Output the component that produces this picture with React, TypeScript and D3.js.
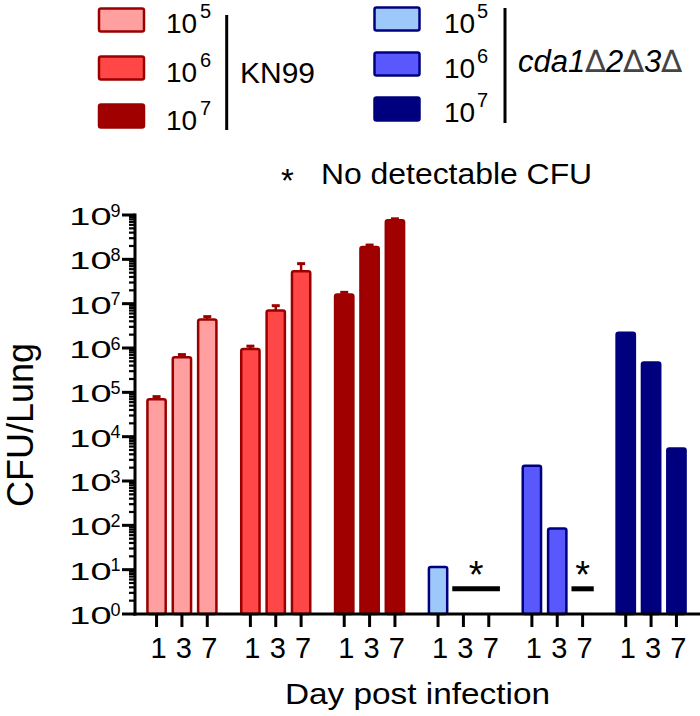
import React from "react";
import * as d3 from "d3";

const groups = ["KN99-1e5", "KN99-1e6", "KN99-1e7", "cda-1e5", "cda-1e6", "cda-1e7"];
const days = ["1", "3", "7"];
const meanValues: (number | null)[][] = [
  [7.0e4, 6.2e5, 4.4e6],
  [9.5e5, 7.0e6, 5.4e7],
  [1.6e7, 1.9e8, 7.6e8],
  [11.5, null, null],
  [2200, 85, null],
  [2.2e6, 4.7e5, 5400],
];
const upperErr: (number | null)[][] = [
  [8.0e4, 7.1e5, 5.1e6],
  [1.1e6, 9.0e6, 8.0e7],
  [1.8e7, 2.1e8, 8.2e8],
  [null, null, null],
  [null, null, null],
  [null, null, null],
];
const fills = ["#ff9f9f", "#ff4747", "#a00000", "#9cc8fa", "#5858fc", "#00007f"];
const strokes = ["#9b0000", "#9b0000", "#9b0000", "#00007f", "#00007f", "#00007f"];
const nondetect = [
  { group: "cda-1e5", from: "3", to: "7", level: 3.7 },
  { group: "cda-1e6", from: "7", to: "7", level: 3.7 },
];
const legendExps = ["5", "6", "7"];
const yExps = [0, 1, 2, 3, 4, 5, 6, 7, 8, 9];

const FONT = "'Liberation Sans', Arial, sans-serif";

export default function App() {
  const y = d3.scaleLog().domain([1, 1e9]).range([614, 215]);
  const xg = d3.scaleBand().domain(groups).range([135, 698]);
  const xd = d3
    .scaleBand()
    .domain(days)
    .range([0, xg.bandwidth()])
    .paddingInner(0.2)
    .paddingOuter(0.45);
  const bw = xd.bandwidth();
  const minor: number[] = [];
  for (let n = 0; n < 9; n++) for (let k = 2; k <= 9; k++) minor.push(k * Math.pow(10, n));
  const delta = (
    <tspan fontFamily="'DejaVu Sans'" fontWeight={200} fontStyle="italic" fill="#444">∆</tspan>
  );

  return (
    <svg
      width={700}
      height={716}
      style={{ position: "absolute", left: 0, top: 0, background: "#fff" }}
      fontFamily={FONT}
    >
      {/* Legend left */}
      {legendExps.map((e, i) => (
        <g key={"ll" + i}>
          <rect
            x={99}
            y={8.5 + i * 48}
            width={45}
            height={23}
            rx={2}
            fill={fills[i]}
            stroke={strokes[i]}
            strokeWidth={2.5}
          />
          <text x={166} y={33 + i * 48.5} fontSize={28}>10</text>
          <text x={200} y={18 + i * 48.5} fontSize={20}>{e}</text>
        </g>
      ))}
      <line x1={226.7} x2={226.7} y1={15} y2={130} stroke="#000" strokeWidth={3} />
      <text x={240} y={83} fontSize={30}>KN99</text>

      {/* Legend right */}
      {legendExps.map((e, i) => (
        <g key={"lr" + i}>
          <rect
            x={374.5}
            y={7.5 + i * 45}
            width={45}
            height={23}
            rx={2}
            fill={fills[i + 3]}
            stroke={strokes[i + 3]}
            strokeWidth={2.5}
          />
          <text x={444} y={33 + i * 44.5} fontSize={28}>10</text>
          <text x={477} y={18 + i * 44.5} fontSize={20}>{e}</text>
        </g>
      ))}
      <line x1={505} x2={505} y1={8} y2={123} stroke="#000" strokeWidth={3} />
      <text x={518} y={72} fontSize={31} fontStyle="italic">
        cda1{delta}2{delta}3{delta}
      </text>

      {/* No detectable note */}
      <text x={281} y={192} fontSize={33}>*</text>
      <text transform="translate(321,184) scale(1.1,1)" fontSize={29}>No detectable CFU</text>

      {/* Bars */}
      {groups.map((g, gi) =>
        days.map((d, di) => {
          const v = meanValues[gi][di];
          if (v == null) return null;
          const x0 = (xg(g) as number) + (xd(d) as number);
          const top = y(v);
          const e = upperErr[gi][di];
          return (
            <g key={g + d}>
              {e != null && (
                <g stroke={strokes[gi]}>
                  <line x1={x0 + bw / 2} x2={x0 + bw / 2} y1={top} y2={y(e)} strokeWidth={2.5} />
                  <line x1={x0 + bw / 2 - 4} x2={x0 + bw / 2 + 4} y1={y(e)} y2={y(e)} strokeWidth={3} />
                </g>
              )}
              <rect
                x={x0 + 1}
                y={top}
                width={bw - 2}
                height={y(1) - top}
                rx={2}
                fill={fills[gi]}
                stroke={strokes[gi]}
                strokeWidth={2.5}
              />
            </g>
          );
        })
      )}

      {/* Non-detectable markers */}
      {nondetect.map((n, i) => {
        const xa = (xg(n.group) as number) + (xd(n.from) as number) - 1;
        const xb = (xg(n.group) as number) + (xd(n.to) as number) + bw + 1;
        const yy = y(n.level);
        return (
          <g key={"nd" + i}>
            <line x1={xa} x2={xb} y1={yy} y2={yy} stroke="#000" strokeWidth={5} />
            <text x={(xa + xb) / 2} y={yy - 1} fontSize={38} textAnchor="middle">*</text>
          </g>
        );
      })}

      {/* Y axis */}
      <line x1={135} x2={135} y1={y(1e9) - 1.5} y2={y(1) + 1.5} stroke="#000" strokeWidth={3} />
      {minor.map((m, i) => (
        <line key={"mn" + i} x1={129} x2={135} y1={y(m)} y2={y(m)} stroke="#000" strokeWidth={2.2} />
      ))}
      {yExps.map((e) => {
        const ty = y(Math.pow(10, e));
        return (
          <g key={"yt" + e}>
            <line x1={122} x2={135} y1={ty} y2={ty} stroke="#000" strokeWidth={3} />
            <text
              transform={`translate(111.5,${ty + 10}) scale(1.55,1)`}
              fontSize={24.5}
              textAnchor="end"
            >
              10
            </text>
            <text x={110.5} y={ty + 1.5} fontSize={18}>{e}</text>
          </g>
        );
      })}

      {/* X axis */}
      <line x1={133.5} x2={700} y1={614} y2={614} stroke="#000" strokeWidth={3} />
      {groups.map((g) =>
        days.map((d) => {
          const cx = (xg(g) as number) + (xd(d) as number) + bw / 2;
          return (
            <g key={"xt" + g + d}>
              <line x1={cx} x2={cx} y1={614} y2={627} stroke="#000" strokeWidth={3} />
              <text x={cx + 2} y={658} fontSize={29} textAnchor="middle">{d}</text>
            </g>
          );
        })
      )}

      {/* Axis titles */}
      <text transform="translate(417.5,704) scale(1.15,1)" fontSize={29} textAnchor="middle">
        Day post infection
      </text>
      <text transform="translate(33,425) rotate(-90)" fontSize={36} textAnchor="middle">
        CFU/Lung
      </text>
    </svg>
  );
}
